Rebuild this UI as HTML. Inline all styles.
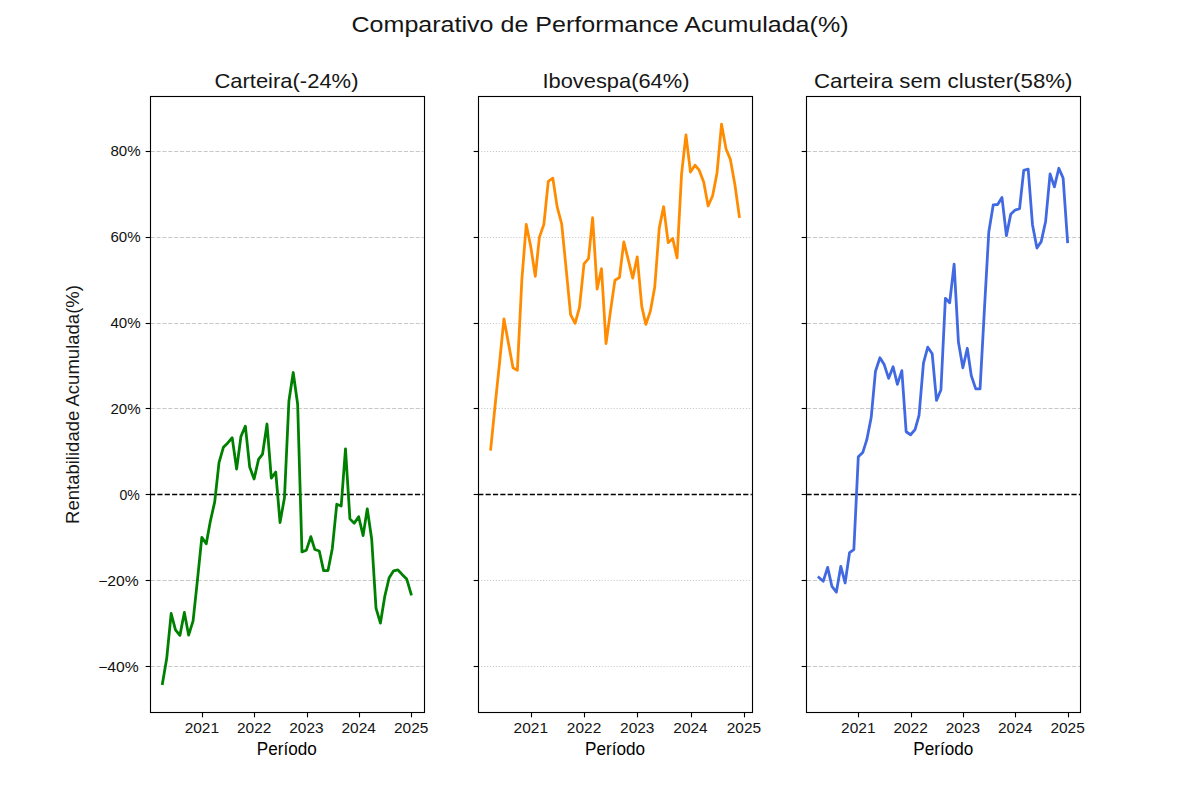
<!DOCTYPE html>
<html><head><meta charset="utf-8"><title>Comparativo de Performance Acumulada</title>
<style>html,body{margin:0;padding:0;background:#fff;}svg{display:block;}text{font-family:"Liberation Sans",sans-serif;}</style></head>
<body><svg width="1200" height="800" viewBox="0 0 1200 800">
<rect x="0" y="0" width="1200" height="800" fill="#fff"/>
<text x="600" y="32" font-family="&quot;Liberation Sans&quot;, sans-serif" font-size="22.6" text-anchor="middle" textLength="497" lengthAdjust="spacingAndGlyphs" fill="#151515">Comparativo de Performance Acumulada(%)</text>
<line x1="150.00" y1="151.5" x2="423.53" y2="151.5" stroke="#b0b0b0" stroke-opacity="0.7" stroke-width="1.11" stroke-dasharray="4.11 1.78" stroke-dashoffset="-0.6"/>
<line x1="150.00" y1="237.5" x2="423.53" y2="237.5" stroke="#b0b0b0" stroke-opacity="0.7" stroke-width="1.11" stroke-dasharray="4.11 1.78" stroke-dashoffset="-0.6"/>
<line x1="150.00" y1="323.5" x2="423.53" y2="323.5" stroke="#b0b0b0" stroke-opacity="0.7" stroke-width="1.11" stroke-dasharray="4.11 1.78" stroke-dashoffset="-0.6"/>
<line x1="150.00" y1="408.5" x2="423.53" y2="408.5" stroke="#b0b0b0" stroke-opacity="0.7" stroke-width="1.11" stroke-dasharray="4.11 1.78" stroke-dashoffset="-0.6"/>
<line x1="150.00" y1="580.5" x2="423.53" y2="580.5" stroke="#b0b0b0" stroke-opacity="0.7" stroke-width="1.11" stroke-dasharray="4.11 1.78" stroke-dashoffset="-0.6"/>
<line x1="150.00" y1="666.5" x2="423.53" y2="666.5" stroke="#b0b0b0" stroke-opacity="0.7" stroke-width="1.11" stroke-dasharray="4.11 1.78" stroke-dashoffset="-0.6"/>
<line x1="150.00" y1="494.5" x2="423.53" y2="494.5" stroke="#000" stroke-width="1.39" stroke-dasharray="5.14 2.22"/>
<polyline points="162.43,683.66 166.73,658.34 171.17,613.50 175.47,629.80 179.91,635.38 184.35,612.42 188.65,635.17 193.09,620.79 197.38,580.66 201.82,537.32 206.26,543.76 210.28,521.44 214.72,501.91 219.01,462.64 223.45,447.19 227.75,442.90 232.19,437.75 236.63,469.08 240.93,436.46 245.37,426.16 249.67,466.93 254.11,478.95 258.55,459.42 262.56,454.06 267.00,424.02 271.30,478.09 275.74,472.08 280.03,522.51 284.47,497.83 288.91,401.06 293.21,372.52 297.65,404.28 301.95,551.91 306.39,550.19 310.83,536.67 314.84,549.55 319.28,551.05 323.58,570.58 328.02,570.58 332.32,548.48 336.76,504.27 341.20,505.99 345.49,448.91 349.93,518.86 354.23,523.16 358.67,516.72 363.11,535.60 367.27,508.78 371.71,539.25 376.00,608.13 380.44,623.15 384.74,596.54 389.18,577.66 393.62,570.79 397.92,569.93 402.36,574.66 406.66,578.95 411.10,593.97" fill="none" stroke="#008000" stroke-width="2.78" stroke-linejoin="round" stroke-linecap="square"/>
<rect x="150.5" y="96.5" width="274" height="616" fill="none" stroke="#000" stroke-width="1.11"/>
<line x1="145.64" y1="151.5" x2="150.5" y2="151.5" stroke="#000" stroke-width="1.11"/>
<text x="140.6" y="155.94" font-family="&quot;Liberation Sans&quot;, sans-serif" font-size="14.1" text-anchor="end" textLength="30.2" lengthAdjust="spacingAndGlyphs" fill="#111">80%</text>
<line x1="145.64" y1="237.5" x2="150.5" y2="237.5" stroke="#000" stroke-width="1.11"/>
<text x="140.6" y="241.88" font-family="&quot;Liberation Sans&quot;, sans-serif" font-size="14.1" text-anchor="end" textLength="30.2" lengthAdjust="spacingAndGlyphs" fill="#111">60%</text>
<line x1="145.64" y1="323.5" x2="150.5" y2="323.5" stroke="#000" stroke-width="1.11"/>
<text x="140.6" y="327.82" font-family="&quot;Liberation Sans&quot;, sans-serif" font-size="14.1" text-anchor="end" textLength="30.2" lengthAdjust="spacingAndGlyphs" fill="#111">40%</text>
<line x1="145.64" y1="408.5" x2="150.5" y2="408.5" stroke="#000" stroke-width="1.11"/>
<text x="140.6" y="413.76" font-family="&quot;Liberation Sans&quot;, sans-serif" font-size="14.1" text-anchor="end" textLength="30.2" lengthAdjust="spacingAndGlyphs" fill="#111">20%</text>
<line x1="145.64" y1="494.5" x2="150.5" y2="494.5" stroke="#000" stroke-width="1.11"/>
<text x="139.8" y="499.70" font-family="&quot;Liberation Sans&quot;, sans-serif" font-size="14.1" text-anchor="end" fill="#111">0%</text>
<line x1="145.64" y1="580.5" x2="150.5" y2="580.5" stroke="#000" stroke-width="1.11"/>
<text x="138.8" y="585.64" font-family="&quot;Liberation Sans&quot;, sans-serif" font-size="14.1" text-anchor="end" textLength="40.6" lengthAdjust="spacingAndGlyphs" fill="#111">−20%</text>
<line x1="145.64" y1="666.5" x2="150.5" y2="666.5" stroke="#000" stroke-width="1.11"/>
<text x="138.8" y="671.58" font-family="&quot;Liberation Sans&quot;, sans-serif" font-size="14.1" text-anchor="end" textLength="40.6" lengthAdjust="spacingAndGlyphs" fill="#111">−40%</text>
<line x1="202.5" y1="712.5" x2="202.5" y2="717.36" stroke="#000" stroke-width="1.11"/>
<text x="201.87" y="733" font-family="&quot;Liberation Sans&quot;, sans-serif" font-size="14.1" text-anchor="middle" textLength="34.4" lengthAdjust="spacingAndGlyphs" fill="#141414">2021</text>
<line x1="254.5" y1="712.5" x2="254.5" y2="717.36" stroke="#000" stroke-width="1.11"/>
<text x="254.15" y="733" font-family="&quot;Liberation Sans&quot;, sans-serif" font-size="14.1" text-anchor="middle" textLength="34.4" lengthAdjust="spacingAndGlyphs" fill="#141414">2022</text>
<line x1="307.5" y1="712.5" x2="307.5" y2="717.36" stroke="#000" stroke-width="1.11"/>
<text x="306.43" y="733" font-family="&quot;Liberation Sans&quot;, sans-serif" font-size="14.1" text-anchor="middle" textLength="34.4" lengthAdjust="spacingAndGlyphs" fill="#141414">2023</text>
<line x1="359.5" y1="712.5" x2="359.5" y2="717.36" stroke="#000" stroke-width="1.11"/>
<text x="358.71" y="733" font-family="&quot;Liberation Sans&quot;, sans-serif" font-size="14.1" text-anchor="middle" textLength="34.4" lengthAdjust="spacingAndGlyphs" fill="#141414">2024</text>
<line x1="411.5" y1="712.5" x2="411.5" y2="717.36" stroke="#000" stroke-width="1.11"/>
<text x="411.14" y="733" font-family="&quot;Liberation Sans&quot;, sans-serif" font-size="14.1" text-anchor="middle" textLength="34.4" lengthAdjust="spacingAndGlyphs" fill="#141414">2025</text>
<text x="286.45" y="88" font-family="&quot;Liberation Sans&quot;, sans-serif" font-size="19.8" text-anchor="middle" textLength="144.1" lengthAdjust="spacingAndGlyphs" fill="#161616">Carteira(-24%)</text>
<text x="286.76" y="755" font-family="&quot;Liberation Sans&quot;, sans-serif" font-size="17.5" text-anchor="middle" textLength="60" lengthAdjust="spacingAndGlyphs" fill="#000">Período</text>
<line x1="478.24" y1="151.5" x2="751.77" y2="151.5" stroke="#b0b0b0" stroke-opacity="0.7" stroke-width="1.11" stroke-dasharray="1.11 1.83" stroke-dashoffset="0"/>
<line x1="478.24" y1="237.5" x2="751.77" y2="237.5" stroke="#b0b0b0" stroke-opacity="0.7" stroke-width="1.11" stroke-dasharray="1.11 1.83" stroke-dashoffset="0"/>
<line x1="478.24" y1="323.5" x2="751.77" y2="323.5" stroke="#b0b0b0" stroke-opacity="0.7" stroke-width="1.11" stroke-dasharray="1.11 1.83" stroke-dashoffset="0"/>
<line x1="478.24" y1="408.5" x2="751.77" y2="408.5" stroke="#b0b0b0" stroke-opacity="0.7" stroke-width="1.11" stroke-dasharray="1.11 1.83" stroke-dashoffset="0"/>
<line x1="478.24" y1="580.5" x2="751.77" y2="580.5" stroke="#b0b0b0" stroke-opacity="0.7" stroke-width="1.11" stroke-dasharray="1.11 1.83" stroke-dashoffset="0"/>
<line x1="478.24" y1="666.5" x2="751.77" y2="666.5" stroke="#b0b0b0" stroke-opacity="0.7" stroke-width="1.11" stroke-dasharray="1.11 1.83" stroke-dashoffset="0"/>
<line x1="478.24" y1="494.5" x2="751.77" y2="494.5" stroke="#000" stroke-width="1.39" stroke-dasharray="5.14 2.22"/>
<polyline points="490.67,449.34 495.04,405.99 499.57,362.65 503.94,318.87 508.46,343.33 512.98,367.80 517.36,370.37 521.88,279.39 526.26,224.45 530.78,246.77 535.30,276.38 539.38,237.33 543.90,224.24 548.28,181.32 552.80,178.10 557.17,206.86 561.70,224.02 566.22,269.52 570.59,314.58 575.11,323.38 579.49,307.28 584.01,263.94 588.53,258.57 592.61,217.59 597.14,289.04 601.51,268.66 606.03,343.55 610.41,311.57 614.93,280.25 619.45,277.46 623.82,241.83 628.35,260.07 632.72,278.10 637.24,256.86 641.76,306.42 645.85,324.45 650.37,311.15 654.74,287.11 659.26,228.10 663.64,206.64 668.16,242.69 672.68,238.40 677.06,257.93 681.58,173.81 685.95,134.97 690.48,172.09 695.00,165.23 699.23,170.16 703.75,182.18 708.12,206.00 712.64,195.70 717.02,172.95 721.54,124.24 726.06,148.92 730.44,159.65 734.96,184.97 739.33,216.51" fill="none" stroke="#ff8c00" stroke-width="2.78" stroke-linejoin="round" stroke-linecap="square"/>
<rect x="478.5" y="96.5" width="274" height="616" fill="none" stroke="#000" stroke-width="1.11"/>
<line x1="473.64" y1="151.5" x2="478.5" y2="151.5" stroke="#000" stroke-width="1.11"/>
<line x1="473.64" y1="237.5" x2="478.5" y2="237.5" stroke="#000" stroke-width="1.11"/>
<line x1="473.64" y1="323.5" x2="478.5" y2="323.5" stroke="#000" stroke-width="1.11"/>
<line x1="473.64" y1="408.5" x2="478.5" y2="408.5" stroke="#000" stroke-width="1.11"/>
<line x1="473.64" y1="494.5" x2="478.5" y2="494.5" stroke="#000" stroke-width="1.11"/>
<line x1="473.64" y1="580.5" x2="478.5" y2="580.5" stroke="#000" stroke-width="1.11"/>
<line x1="473.64" y1="666.5" x2="478.5" y2="666.5" stroke="#000" stroke-width="1.11"/>
<line x1="531.5" y1="712.5" x2="531.5" y2="717.36" stroke="#000" stroke-width="1.11"/>
<text x="530.82" y="733" font-family="&quot;Liberation Sans&quot;, sans-serif" font-size="14.1" text-anchor="middle" textLength="34.4" lengthAdjust="spacingAndGlyphs" fill="#141414">2021</text>
<line x1="584.5" y1="712.5" x2="584.5" y2="717.36" stroke="#000" stroke-width="1.11"/>
<text x="584.06" y="733" font-family="&quot;Liberation Sans&quot;, sans-serif" font-size="14.1" text-anchor="middle" textLength="34.4" lengthAdjust="spacingAndGlyphs" fill="#141414">2022</text>
<line x1="637.5" y1="712.5" x2="637.5" y2="717.36" stroke="#000" stroke-width="1.11"/>
<text x="637.29" y="733" font-family="&quot;Liberation Sans&quot;, sans-serif" font-size="14.1" text-anchor="middle" textLength="34.4" lengthAdjust="spacingAndGlyphs" fill="#141414">2023</text>
<line x1="691.5" y1="712.5" x2="691.5" y2="717.36" stroke="#000" stroke-width="1.11"/>
<text x="690.52" y="733" font-family="&quot;Liberation Sans&quot;, sans-serif" font-size="14.1" text-anchor="middle" textLength="34.4" lengthAdjust="spacingAndGlyphs" fill="#141414">2024</text>
<line x1="744.5" y1="712.5" x2="744.5" y2="717.36" stroke="#000" stroke-width="1.11"/>
<text x="743.90" y="733" font-family="&quot;Liberation Sans&quot;, sans-serif" font-size="14.1" text-anchor="middle" textLength="34.4" lengthAdjust="spacingAndGlyphs" fill="#141414">2025</text>
<text x="615.95" y="88" font-family="&quot;Liberation Sans&quot;, sans-serif" font-size="19.8" text-anchor="middle" textLength="147.1" lengthAdjust="spacingAndGlyphs" fill="#161616">Ibovespa(64%)</text>
<text x="615.00" y="755" font-family="&quot;Liberation Sans&quot;, sans-serif" font-size="17.5" text-anchor="middle" textLength="60" lengthAdjust="spacingAndGlyphs" fill="#000">Período</text>
<line x1="806.47" y1="151.5" x2="1080.00" y2="151.5" stroke="#b0b0b0" stroke-opacity="0.7" stroke-width="1.11" stroke-dasharray="4.11 1.78" stroke-dashoffset="-0.6"/>
<line x1="806.47" y1="237.5" x2="1080.00" y2="237.5" stroke="#b0b0b0" stroke-opacity="0.7" stroke-width="1.11" stroke-dasharray="4.11 1.78" stroke-dashoffset="-0.6"/>
<line x1="806.47" y1="323.5" x2="1080.00" y2="323.5" stroke="#b0b0b0" stroke-opacity="0.7" stroke-width="1.11" stroke-dasharray="4.11 1.78" stroke-dashoffset="-0.6"/>
<line x1="806.47" y1="408.5" x2="1080.00" y2="408.5" stroke="#b0b0b0" stroke-opacity="0.7" stroke-width="1.11" stroke-dasharray="4.11 1.78" stroke-dashoffset="-0.6"/>
<line x1="806.47" y1="580.5" x2="1080.00" y2="580.5" stroke="#b0b0b0" stroke-opacity="0.7" stroke-width="1.11" stroke-dasharray="4.11 1.78" stroke-dashoffset="-0.6"/>
<line x1="806.47" y1="666.5" x2="1080.00" y2="666.5" stroke="#b0b0b0" stroke-opacity="0.7" stroke-width="1.11" stroke-dasharray="4.11 1.78" stroke-dashoffset="-0.6"/>
<line x1="806.47" y1="494.5" x2="1080.00" y2="494.5" stroke="#000" stroke-width="1.39" stroke-dasharray="5.14 2.22"/>
<polyline points="818.91,577.45 823.20,581.31 827.64,567.36 831.94,586.46 836.38,592.04 840.82,566.29 845.12,583.02 849.56,552.55 853.86,549.55 858.30,456.85 862.74,452.56 866.75,439.90 871.19,417.58 875.48,371.23 879.93,357.71 884.22,364.58 888.66,378.31 893.10,366.72 897.40,384.32 901.84,370.59 906.14,431.74 910.58,434.75 915.02,429.60 919.03,415.43 923.47,363.07 927.77,347.20 932.21,353.85 936.50,400.41 940.95,389.68 945.39,298.27 949.68,302.78 954.12,264.15 958.42,342.05 962.86,367.80 967.30,348.27 971.31,375.74 975.75,388.83 980.05,388.83 984.49,308.14 988.79,231.96 993.23,204.93 997.67,204.50 1001.97,197.42 1006.41,235.61 1010.70,214.37 1015.14,210.08 1019.58,208.57 1023.74,170.38 1028.18,169.09 1032.48,224.67 1036.92,248.06 1041.21,241.62 1045.65,221.23 1050.09,173.81 1054.39,186.90 1058.83,168.23 1063.13,178.10 1067.57,241.83" fill="none" stroke="#4169e1" stroke-width="2.78" stroke-linejoin="round" stroke-linecap="square"/>
<rect x="806.5" y="96.5" width="274" height="616" fill="none" stroke="#000" stroke-width="1.11"/>
<line x1="801.64" y1="151.5" x2="806.5" y2="151.5" stroke="#000" stroke-width="1.11"/>
<line x1="801.64" y1="237.5" x2="806.5" y2="237.5" stroke="#000" stroke-width="1.11"/>
<line x1="801.64" y1="323.5" x2="806.5" y2="323.5" stroke="#000" stroke-width="1.11"/>
<line x1="801.64" y1="408.5" x2="806.5" y2="408.5" stroke="#000" stroke-width="1.11"/>
<line x1="801.64" y1="494.5" x2="806.5" y2="494.5" stroke="#000" stroke-width="1.11"/>
<line x1="801.64" y1="580.5" x2="806.5" y2="580.5" stroke="#000" stroke-width="1.11"/>
<line x1="801.64" y1="666.5" x2="806.5" y2="666.5" stroke="#000" stroke-width="1.11"/>
<line x1="858.5" y1="712.5" x2="858.5" y2="717.36" stroke="#000" stroke-width="1.11"/>
<text x="858.34" y="733" font-family="&quot;Liberation Sans&quot;, sans-serif" font-size="14.1" text-anchor="middle" textLength="34.4" lengthAdjust="spacingAndGlyphs" fill="#141414">2021</text>
<line x1="911.5" y1="712.5" x2="911.5" y2="717.36" stroke="#000" stroke-width="1.11"/>
<text x="910.62" y="733" font-family="&quot;Liberation Sans&quot;, sans-serif" font-size="14.1" text-anchor="middle" textLength="34.4" lengthAdjust="spacingAndGlyphs" fill="#141414">2022</text>
<line x1="963.5" y1="712.5" x2="963.5" y2="717.36" stroke="#000" stroke-width="1.11"/>
<text x="962.90" y="733" font-family="&quot;Liberation Sans&quot;, sans-serif" font-size="14.1" text-anchor="middle" textLength="34.4" lengthAdjust="spacingAndGlyphs" fill="#141414">2023</text>
<line x1="1015.5" y1="712.5" x2="1015.5" y2="717.36" stroke="#000" stroke-width="1.11"/>
<text x="1015.19" y="733" font-family="&quot;Liberation Sans&quot;, sans-serif" font-size="14.1" text-anchor="middle" textLength="34.4" lengthAdjust="spacingAndGlyphs" fill="#141414">2024</text>
<line x1="1068.5" y1="712.5" x2="1068.5" y2="717.36" stroke="#000" stroke-width="1.11"/>
<text x="1067.61" y="733" font-family="&quot;Liberation Sans&quot;, sans-serif" font-size="14.1" text-anchor="middle" textLength="34.4" lengthAdjust="spacingAndGlyphs" fill="#141414">2025</text>
<text x="943.25" y="88" font-family="&quot;Liberation Sans&quot;, sans-serif" font-size="19.8" text-anchor="middle" textLength="258.5" lengthAdjust="spacingAndGlyphs" fill="#161616">Carteira sem cluster(58%)</text>
<text x="943.24" y="755" font-family="&quot;Liberation Sans&quot;, sans-serif" font-size="17.5" text-anchor="middle" textLength="60" lengthAdjust="spacingAndGlyphs" fill="#000">Período</text>
<text x="0" y="0" transform="translate(78.9,404.5) rotate(-90)" font-family="&quot;Liberation Sans&quot;, sans-serif" font-size="17.75" text-anchor="middle" textLength="239" lengthAdjust="spacingAndGlyphs" fill="#181818">Rentabilidade Acumulada(%)</text>
</svg></body></html>
